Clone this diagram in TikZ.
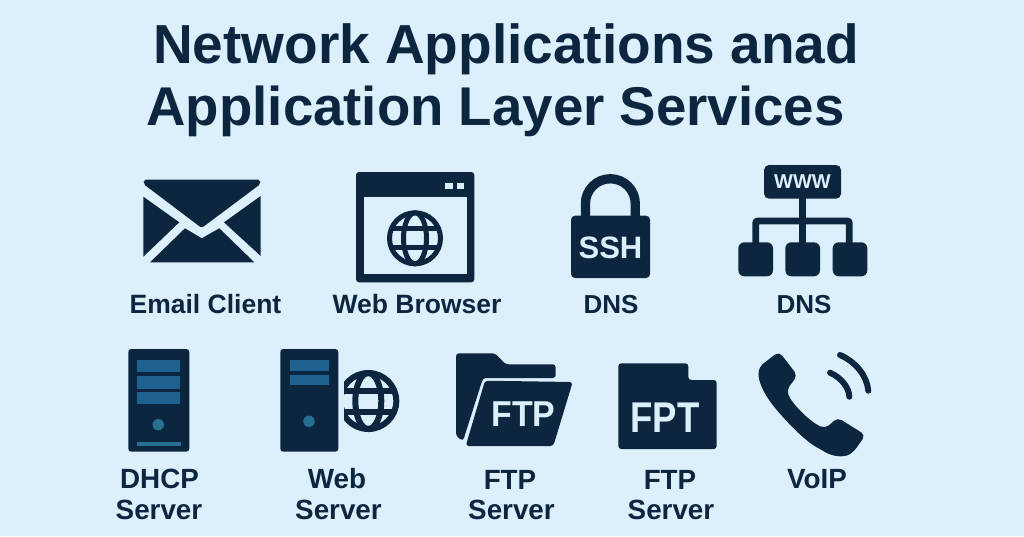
\documentclass[tikz,border=0pt]{standalone}
\usepackage{fontspec}
\setmainfont{Liberation Sans}[BoldFont={Liberation Sans Bold}]
\definecolor{bgc}{HTML}{DCF0FC}
\definecolor{ink}{HTML}{0C2640}
\definecolor{barc}{HTML}{1F6190}
\definecolor{dotc}{HTML}{27708F}
\tikzset{
  lab/.style={font=\bfseries\fontsize{26.5}{26.5}\selectfont,text=ink,inner sep=0pt,anchor=base},
  labb/.style={font=\bfseries\fontsize{27.8}{27.8}\selectfont,text=ink,inner sep=0pt,anchor=base},
  titl/.style={font=\bfseries\fontsize{55}{55}\selectfont,text=ink,inner sep=0pt,anchor=base},
  ico/.style={text=bgc,inner sep=0pt},
  gl/.style={draw=ink,line width=#1},
}
\newcommand{\myglobe}[6]{% x y r lw meridian-half-width latitude-offset
  \begin{scope}[shift={(#1,#2)},gl=#4]
    \draw (0,0) circle (#3);
    \draw (0,0) ellipse (#5 and #3);
    \clip (0,0) circle (#3);
    \draw (-#3,-#6) -- (#3,-#6);
    \draw (-#3,#6) -- (#3,#6);
  \end{scope}}
\begin{document}
\begin{tikzpicture}[x=1pt,y=-1pt]
\useasboundingbox (0,0) rectangle (1024,536);
\fill[bgc] (0,0) rectangle (1024,536);
\node[titl] (t1) at (506,63.5) {Network Applications anad};
\node[titl,font=\bfseries\fontsize{54.6}{54.6}\selectfont] (t2) at (495.5,125.3) {Application Layer Services};
% envelope
\fill[ink,rounded corners=2pt] (144,179.5) -- (260,179.5) -- (260.5,184) -- (201.7,228) -- (143.5,184) -- cycle;
\fill[ink] (143.3,196.7) -- (179.3,222.3) -- (143.3,256.7) -- cycle;
\fill[ink] (260.7,196) -- (224,222.3) -- (260.7,256) -- cycle;
\fill[ink] (150,262.3) -- (185,228.3) -- (201.7,238.3) -- (219.3,228.3) -- (254.3,262.3) -- cycle;
\node[lab] (l1) at (205.5,313) {Email Client};
% browser
\fill[ink,rounded corners=3pt] (356,172) rectangle (474.3,282.3);
\fill[bgc] (364.3,196.7) rectangle (466.7,274.3);
\fill[bgc] (445,182.7) rectangle (452.7,189.3);
\fill[bgc] (457,182.7) rectangle (464.3,189.3);
\myglobe{415}{238.3}{25.5}{5pt}{11.5}{9.5}
\node[lab] (l2) at (417,313) {Web Browser};
% lock
\draw[ink,line width=9.3pt] (585.4,220) -- (585.4,203.7) arc[start angle=180,end angle=0,radius=24.95pt] -- (635.3,220);
\fill[ink,rounded corners=4pt] (571,215.7) rectangle (650,278);
\node[ico,font=\bfseries\fontsize{31}{31}\selectfont] (ssh) at (610.5,248) {SSH};
\node[lab,font=\bfseries\fontsize{26}{26}\selectfont] (l3) at (611,313) {DNS};
% www
\draw[ink,line width=6.7pt,rounded corners=2pt] (755.7,250) -- (755.7,221) -- (849.3,221) -- (849.3,250);
\draw[ink,line width=6.7pt] (802.3,195) -- (802.3,250);
\fill[ink,rounded corners=5pt] (764,165) rectangle (841,198.7);
\node[ico,font=\bfseries\fontsize{20}{20}\selectfont] (www) at (802.5,182) {WWW};
\fill[ink,rounded corners=6pt] (738.3,242.3) rectangle (773,276.3);
\fill[ink,rounded corners=6pt] (785.3,242.3) rectangle (820,276.3);
\fill[ink,rounded corners=6pt] (832.7,242.3) rectangle (867.3,276.3);
\node[lab,font=\bfseries\fontsize{26}{26}\selectfont] (l4) at (804,313) {DNS};
% server 1
\fill[ink,rounded corners=3pt] (128.3,349) rectangle (189.3,451.7);
\fill[barc] (136.7,360) rectangle (180.3,372.3);
\fill[barc] (136.7,375.7) rectangle (180.3,389);
\fill[barc] (136.7,391.7) rectangle (180.3,404.3);
\fill[dotc] (158.3,424.7) circle (5.7);
\fill[dotc] (136.7,442) rectangle (181,445.7);
\node[labb] (l5a) at (159.5,488.5) {DHCP};
\node[labb] (l5b) at (159,519.5) {Server};
% server 2
\fill[ink,rounded corners=3pt] (280.3,349) rectangle (338.3,451.7);
\fill[barc] (290,360) rectangle (328.7,370.7);
\fill[barc] (290,375) rectangle (328.7,385);
\fill[dotc] (309,421.3) circle (5.7);
\begin{scope}
\clip (344,360) rectangle (410,440);
\myglobe{368.3}{401}{28}{6pt}{13}{10.5}
\end{scope}
\node[labb] (l6a) at (337,488.5) {Web};
\node[labb] (l6b) at (338.5,519.5) {Server};
% folder
\fill[ink,rounded corners=3pt] (456,353.3) -- (495,353.3) -- (505.7,364.3) -- (555.7,364.3) -- (555.7,378) -- (483,378) -- (463,441) -- (456,436) -- cycle;
\fill[ink,rounded corners=3pt] (485,380.7) -- (572.7,382) -- (553.3,446) -- (465.7,446) -- cycle;
\node[ico,font=\bfseries\fontsize{36}{36}\selectfont] (ftp) at (523.3,414) {\scalebox{0.94}[1]{FTP}};
\node[labb] (l7a) at (510,489) {FTP};
\node[labb] (l7b) at (511.5,519.5) {Server};
% folder 2
\fill[ink,rounded corners=3pt] (618.3,363.3) -- (688.3,363.3) -- (688.3,380) -- (716.7,380) -- (716.7,449) -- (618.3,449) -- cycle;
\node[ico,font=\bfseries\fontsize{43}{43}\selectfont] (fpt) at (665,417.3) {\scalebox{0.85}[1]{FPT}};
\node[labb] (l8a) at (670,489) {FTP};
\node[labb] (l8b) at (671,519.5) {Server};
% phone
\fill[ink,rounded corners=5pt] (779,351.5) -- (797.5,375.5) -- (786.5,390) .. controls (792,404) and (810,422) .. (825.5,428.5) -- (837.5,417.5) -- (865.5,435) -- (853.5,452) .. controls (843,458) and (832,456) .. (821.7,450) .. controls (805,441) and (788,423) .. (775,408) .. controls (766,396) and (757,382) .. (759.5,366.5) -- cycle;
\draw[ink,line width=6pt,line cap=round] (830,372.7) .. controls (842,378) and (849,388) .. (849.3,396.7);
\draw[ink,line width=6pt,line cap=round] (840,355) .. controls (856,362) and (867,376) .. (868.3,390.7);
\node[labb] (l9) at (817,488.5) {VoIP};
\end{tikzpicture}
\end{document}
